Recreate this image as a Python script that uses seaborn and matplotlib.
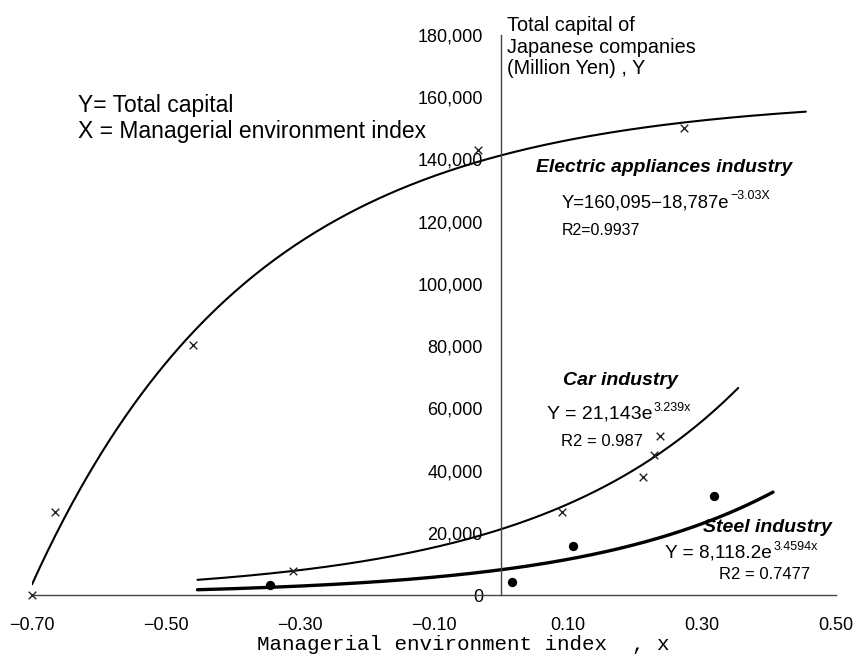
import numpy as np
import pandas as pd
import matplotlib
matplotlib.use("Agg")
import matplotlib.pyplot as plt
import seaborn as sns

# Observed points: managerial environment index (x) vs total capital (Y, million yen)
elec_x = [-0.70, -0.665, -0.46, -0.035, 0.273]
elec_y = [0, 26700, 80300, 143000, 150000]
car_x = [-0.31, 0.0915, 0.2115, 0.228, 0.237]
car_y = [7700, 26700, 37900, 45000, 51100]
steel_x = [-0.345, 0.0165, 0.108, 0.318]
steel_y = [3200, 4200, 15700, 31800]

# Fitted trend curves and the x-span each one is drawn over
elec_fit = [160095, 18787, -3.03]      # Y = a - b * exp(c x)
car_fit = [21143, 3.239]               # Y = a * exp(b x)
steel_fit = [8118.2, 3.4594]           # Y = a * exp(b x)
elec_span = [-0.70, 0.455]
car_span = [-0.453, 0.354]
steel_span = [-0.453, 0.406]

x_ticks = [-0.70, -0.50, -0.30, -0.10, 0.10, 0.30, 0.50]
y_ticks = [0, 20000, 40000, 60000, 80000, 100000, 120000, 140000, 160000, 180000]

sns.set_theme(style="white")
plt.rcParams["font.family"] = ["Liberation Sans", "DejaVu Sans"]
plt.rcParams["text.color"] = "black"
plt.rcParams["axes.labelcolor"] = "black"
plt.rcParams["axes.unicode_minus"] = True

fig, ax = plt.subplots(figsize=(8.55, 6.57), dpi=100)
fig.subplots_adjust(left=32 / 855, right=836 / 855, bottom=1 - 595 / 657, top=1 - 35 / 657)


def curve(span, func):
    xs = np.linspace(span[0], span[1], 300)
    return pd.DataFrame({"x": xs, "y": func(xs)})


elec_curve = curve(elec_span, lambda x: elec_fit[0] - elec_fit[1] * np.exp(elec_fit[2] * x))
car_curve = curve(car_span, lambda x: car_fit[0] * np.exp(car_fit[1] * x))
steel_curve = curve(steel_span, lambda x: steel_fit[0] * np.exp(steel_fit[1] * x))

sns.lineplot(data=elec_curve, x="x", y="y", ax=ax, color="black", lw=1.5,
             sort=False, estimator=None)
sns.lineplot(data=car_curve, x="x", y="y", ax=ax, color="black", lw=1.5,
             sort=False, estimator=None)
sns.lineplot(data=steel_curve, x="x", y="y", ax=ax, color="black", lw=2.4,
             sort=False, estimator=None)

pts_x = pd.DataFrame({"x": elec_x + car_x, "y": elec_y + car_y})
pts_s = pd.DataFrame({"x": steel_x, "y": steel_y})
sns.scatterplot(data=pts_x, x="x", y="y", ax=ax, marker="x", s=30, color="#222222",
                linewidth=1.0, clip_on=False, zorder=4)
sns.scatterplot(data=pts_s, x="x", y="y", ax=ax, marker="o", s=45, color="black",
                edgecolor="black", linewidth=0, clip_on=False, zorder=4)

ax.set_xlim(-0.70, 0.50)
ax.set_ylim(0, 180000)

# Axes cross at the origin
for side in ["top", "right"]:
    ax.spines[side].set_visible(False)
ax.spines["left"].set_position(("data", 0))
ax.spines["bottom"].set_position(("data", 0))
for side in ["left", "bottom"]:
    ax.spines[side].set_color("#444444")
    ax.spines[side].set_linewidth(1.0)

ax.set_xticks(x_ticks)
ax.set_xticklabels([f"{v:.2f}".replace("-", "\u2212") for v in x_ticks])
ax.set_yticks(y_ticks)
ax.set_yticklabels([f"{v:,}" for v in y_ticks])
ax.tick_params(axis="y", direction="in", length=4, width=1, color="#444444",
               pad=13, labelsize=13, labelcolor="black")
ax.tick_params(axis="x", direction="in", length=4, width=1, color="#444444",
               pad=16, labelsize=13, labelcolor="black")
ax.grid(False)

ax.set_ylabel("")
ax.set_xlabel("Managerial environment index  , x", family="Liberation Mono",
              fontsize=15, color="black")
ax.xaxis.set_label_coords(0.536, -0.072)

# Axis caption for Y
ax.text(0.009, 186000, "Total capital of\nJapanese companies\n(Million Yen) , Y",
        ha="left", va="top", fontsize=14.3, linespacing=1.16, clip_on=False)

# Variable key
ax.text(-0.631, 157300, "Y= Total capital", ha="left", va="center", fontsize=16.5)
ax.text(-0.631, 149100, "X = Managerial environment index", ha="left", va="center",
        fontsize=16.5)


def equation(x, y, main, power, size, psize):
    t = ax.text(x, y, main, ha="left", va="baseline", fontsize=size)
    ax.annotate(power, xy=(1.0, 1.0), xycoords=t, xytext=(1, 3),
                textcoords="offset points", ha="left", va="top", fontsize=psize)
    return t


# Electric appliances
ax.text(0.052, 136000, "Electric appliances industry", ha="left", va="baseline",
        fontsize=13.9, fontweight="bold", fontstyle="italic")
equation(0.091, 124700, "Y=160,095\u221218,787e", "\u22123.03X", 13.3, 9)
ax.text(0.091, 115700, "R2=0.9937", ha="left", va="baseline", fontsize=11.5)

# Car
ax.text(0.0925, 67500, "Car industry", ha="left", va="baseline",
        fontsize=14, fontweight="bold", fontstyle="italic")
equation(0.0687, 56600, "Y = 21,143e", "3.239x", 14, 9)
ax.text(0.0896, 47900, "R2 = 0.987", ha="left", va="baseline", fontsize=12)

# Steel
ax.text(0.301, 20250, "Steel industry", ha="left", va="baseline",
        fontsize=14, fontweight="bold", fontstyle="italic")
equation(0.245, 11900, "Y = 8,118.2e", "3.4594x", 13.7, 9)
ax.text(0.325, 5150, "R2 = 0.7477", ha="left", va="baseline", fontsize=12)

fig.savefig("out.png", dpi=100)
